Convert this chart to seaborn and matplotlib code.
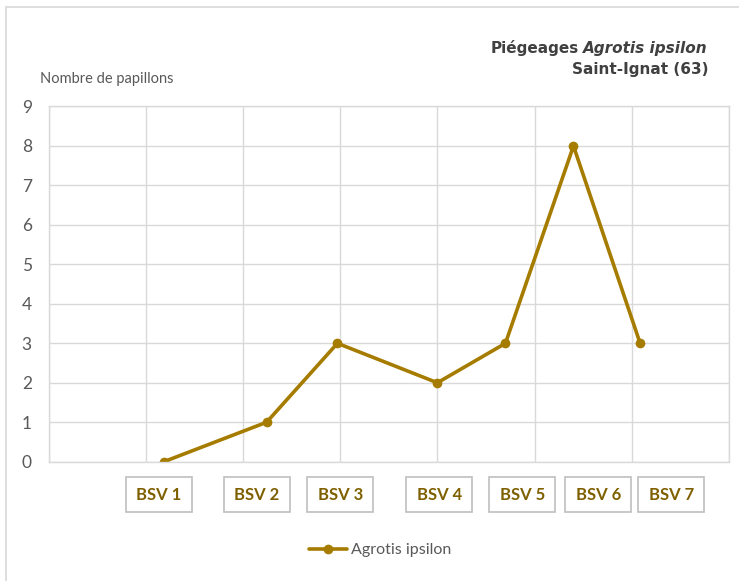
import numpy as np
import matplotlib
matplotlib.use("Agg")
import matplotlib.pyplot as plt
import seaborn as sns
from matplotlib.patches import Rectangle
from matplotlib.transforms import IdentityTransform

# Données (x en jours depuis le début de l'axe)
bulletins = ["BSV 1", "BSV 2", "BSV 3", "BSV 4", "BSV 5", "BSV 6", "BSV 7"]
jours = [8.3, 15.7, 20.8, 28.0, 32.9, 37.8, 42.6]
papillons = [0, 1, 3, 2, 3, 8, 3]
y_ticks = list(range(0, 10))

OR = "#a67c00"
TEXTE = "#595959"
GRILLE = "#d9d9d9"
W, H = 739, 581

sns.set_theme(style="whitegrid")
plt.rcParams['font.family'] = ['Lato', 'DejaVu Sans']

fig = plt.figure(figsize=(W / 100, H / 100), dpi=100)
ax = fig.add_axes([48.6 / W, 1 - 461.7 / H, (729 - 48.6) / W, (461.7 - 106.5) / H])

sns.lineplot(x=jours, y=papillons, marker='o', color=OR, linewidth=2.6,
             markersize=7, markeredgewidth=0, label='Agrotis ipsilon', ax=ax)

ax.set_xlim(0, 49)
ax.set_xticks(np.arange(0, 50, 7))
ax.set_xticklabels([])
ax.set_ylim(0, 9)
ax.set_yticks(y_ticks)
ax.tick_params(axis='both', length=0)
ax.tick_params(axis='y', pad=12, labelsize=12.5, labelcolor=TEXTE)
ax.grid(color=GRILLE, linewidth=1)
for s in ax.spines.values():
    s.set_color(GRILLE)
    s.set_linewidth(1)
ax.set_xlabel('')
ax.set_ylabel('')

# Légende en bas
handles, labels = ax.get_legend_handles_labels()
ax.get_legend().remove()
fig.legend(handles, labels, loc='center', bbox_to_anchor=(380 / W, 1 - 550 / H),
           frameon=False, handlelength=2.4, handletextpad=0.2, fontsize=11.5,
           labelcolor=TEXTE)

# Titre de l'axe
fig.text(40 / W, 1 - 79 / H, "Nombre de papillons", ha='left', va='center',
         fontsize=10.5, color=TEXTE)

# Titre (partie en italique + partie droite)
TITRE = dict(fontweight='bold', fontsize=11, color='#404040', family=['DejaVu Sans'])
t_it = fig.text(708 / W, 1 - 48 / H, "Agrotis ipsilon", ha='right', va='center',
                fontstyle='italic', **TITRE)
fig.text(708 / W, 1 - 70 / H, "Saint-Ignat (63)", ha='right', va='center', **TITRE)
fig.canvas.draw()
bb = t_it.get_window_extent()
fig.text((bb.x0 - 4) / W, 1 - 48 / H, "Piégeages", ha='right', va='center', **TITRE)

# Étiquettes BSV encadrées sous chaque relevé
label_shift_px = [-5, -10, 3, 2, 17, 25, 31]
for b, j, dx in zip(bulletins, jours, label_shift_px):
    px = ax.transData.transform((j, 0))[0] + dx
    fig.add_artist(Rectangle((px - 33, H - 512), 66, 35, transform=IdentityTransform(),
                             facecolor='white', edgecolor='#bfbfbf', linewidth=1.2))
    fig.text(px / W, 1 - 494.5 / H, b, ha='center', va='center', fontsize=12,
             fontweight='bold', color='#7f6000')

# Cadre extérieur
fig.add_artist(Rectangle((6, -5), 740, H - 7 + 5, transform=IdentityTransform(),
                         facecolor='none', edgecolor=GRILLE, linewidth=1.2))

fig.savefig('out.png', dpi=100)
